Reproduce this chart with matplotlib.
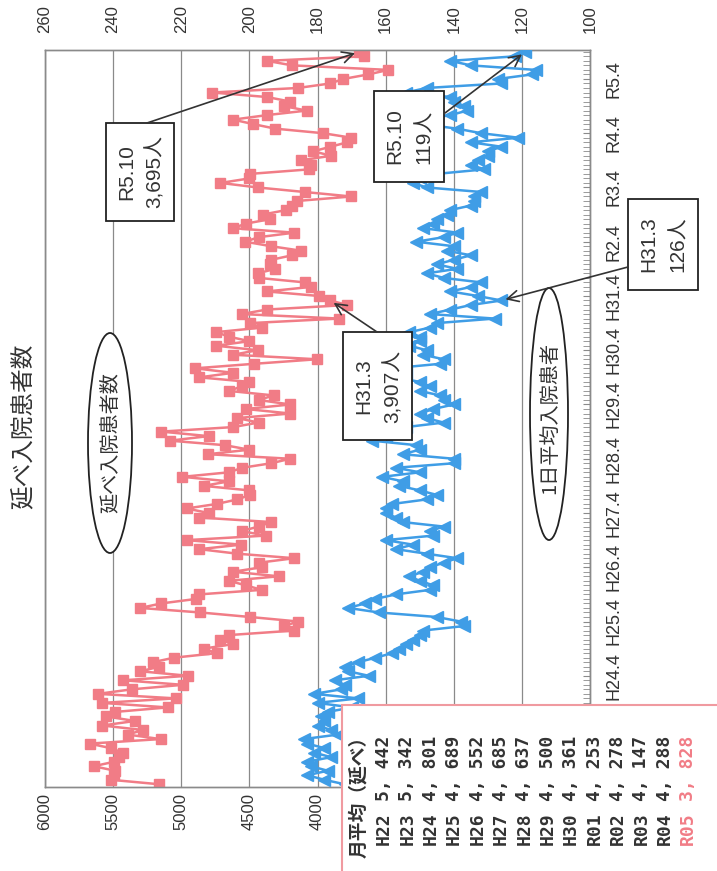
import numpy as np
import matplotlib
matplotlib.use('Agg')
import matplotlib.pyplot as plt
from matplotlib.patches import Ellipse, Rectangle

plt.rcParams['font.family'] = ['Liberation Sans', 'Noto Sans CJK JP', 'DejaVu Sans']

# 延べ入院患者数 (monthly total), H22.4 .. R5.10
total = [5160, 5518, 5490, 5487, 5642, 5490, 5456, 5430, 5518, 5673, 5152, 5394,   # H22
         5280, 5580, 5340, 5549, 5487, 5100, 5580, 5040, 5611, 5363, 4988, 5425,   # H23
         4950, 5301, 5160, 5208, 5053, 4740, 4836, 4620, 4712, 4650, 4172, 4247,   # H24
         4140, 4495, 4860, 5301, 5146, 4890, 4867, 4410, 4526, 4650, 4284, 4619,   # H25
         4410, 4433, 4170, 4588, 4867, 4560, 4960, 4380, 4557, 4433, 4340, 4867,   # H26
         4800, 4960, 4740, 4588, 4495, 4500, 4836, 4650, 4991, 4650, 4553, 4340,   # H27
         4200, 4805, 4500, 4681, 5084, 4800, 5146, 4620, 4433, 4588, 4200, 4526,   # H28
         4200, 4433, 4320, 4650, 4557, 4500, 4867, 4620, 4898, 4464, 4004, 4619,   # H29
         4440, 4743, 4500, 4650, 4743, 4410, 4495, 3840, 4557, 4371, 3780, 3907,   # H30
         3990, 4371, 4050, 4092, 4433, 4440, 4309, 4350, 4340, 4185, 4118, 4340,   # R01
         4530, 4433, 4170, 4619, 4526, 4345, 4402, 4230, 4185, 4154, 3752, 4092,   # R02
         4440, 4712, 4500, 4495, 4061, 4050, 4123, 3900, 4030, 3906, 3780, 3751,   # R03
         3960, 4309, 4470, 4619, 4371, 4080, 4247, 4200, 4371, 4774, 4144, 3906,   # R04
         3810, 3627, 3480, 4185, 4371, 3660, 3695]                                 # R05

# 1日平均入院患者
daily = [172, 178, 183, 177, 182, 183, 176, 181, 178, 183, 184, 174,
         176, 180, 178, 179, 177, 170, 180, 168, 181, 173, 172, 175,
         165, 171, 172, 168, 163, 158, 156, 154, 152, 150, 149, 137,
         138, 145, 162, 171, 166, 163, 157, 147, 146, 150, 153, 149,
         147, 143, 139, 148, 157, 152, 160, 146, 147, 143, 155, 157,
         160, 160, 158, 148, 145, 150, 156, 155, 161, 150, 157, 140,
         140, 155, 150, 151, 164, 160, 166, 154, 143, 148, 150, 146,
         140, 143, 144, 150, 147, 150, 157, 154, 158, 144, 143, 149,
         148, 153, 150, 150, 153, 147, 145, 128, 147, 141, 135, 126,
         133, 141, 135, 132, 143, 148, 139, 145, 140, 135, 142, 140,
         151, 143, 139, 149, 146, 145, 142, 141, 135, 134, 134, 132,
         148, 152, 150, 145, 131, 135, 133, 130, 130, 126, 135, 121,
         132, 139, 149, 149, 141, 136, 137, 140, 141, 154, 148, 126,
         127, 117, 116, 135, 141, 122, 119]

# labels of April ticks visible on the time axis (H22.4, H23.4 are under the table)
year_ticks = ['H24.4', 'H25.4', 'H26.4', 'H27.4', 'H28.4', 'H29.4',
              'H30.4', 'H31.4', 'R2.4', 'R3.4', 'R4.4', 'R5.4']
first_tick = 24

tbl_years = ['H22', 'H23', 'H24', 'H25', 'H26', 'H27', 'H28', 'H29', 'H30',
             'R01', 'R02', 'R03', 'R04', 'R05']
tbl_avg = [5442, 5342, 4801, 4689, 4552, 4685, 4637, 4500, 4361, 4253,
           4278, 4147, 4288, 3828]

pink = '#f17c86'
blue = '#3f9de6'
grey = '#8a8a8a'
txt = '#333333'

W, H = 717, 871
fig = plt.figure(figsize=(W / 100, H / 100), dpi=100)
x0, x1, y0, y1 = 45, 590, 50, 787
ax = fig.add_axes([x0 / W, 1 - y1 / H, (x1 - x0) / W, (y1 - y0) / H])
months = np.arange(len(total))

ax.plot(total, months, color=pink, marker='s', ms=7, lw=1.8, zorder=3)
ax.set_xlim(6000, 2000)
xt = np.arange(2000, 6001, 500)
ax.set_xticks(xt)
# labels below 4000 are covered by the table in the original
ax.set_xticklabels([str(v) if v >= 4000 else '' for v in xt], rotation=90)
ax.tick_params(axis='x', length=0, pad=4, labelsize=12, labelcolor=txt)
ax.grid(axis='x', color=grey, lw=0.9)
ax.set_axisbelow(True)

ax.yaxis.tick_right()
ax.set_yticks(months[first_tick::12])
ax.set_yticklabels(year_ticks, rotation=90, va='center')
ax.set_yticks(months, minor=True)
ax.tick_params(axis='y', which='both', direction='in', length=5, color=grey,
               left=False, right=True, labelleft=False, labelright=True,
               pad=11, labelsize=13, labelcolor=txt)

ax2 = ax.twiny()
ax2.plot(daily, months, color=blue, marker='<', ms=8, lw=1.8, zorder=3)
ax2.set_xlim(260, 100)
ax2.set_xticks(np.arange(100, 261, 20))
ax2.set_xticklabels([str(v) for v in np.arange(100, 261, 20)], rotation=90)
ax2.tick_params(axis='x', length=0, pad=12, labelsize=12, labelcolor=txt)
ax.set_ylim(-0.6, 162.4)

for a in (ax, ax2):
    for s in a.spines.values():
        s.set_color(grey)
        s.set_linewidth(1.0)

# overlay in pixel coordinates
ov = fig.add_axes([0, 0, 1, 1])
ov.set_xlim(0, W)
ov.set_ylim(H, 0)
ov.axis('off')

ov.text(23, 426, '延べ入院患者数', rotation=90, ha='center', va='center',
        fontsize=17, color=txt, family=['Noto Sans CJK JP'])

ov.add_patch(Ellipse((110, 443), 44, 220, fc='white', ec='#222222', lw=1.3))
ov.text(111, 443, '延べ入院患者数', rotation=90, ha='center', va='center',
        fontsize=14.5, color=txt, family=['Noto Sans CJK JP'])
ov.add_patch(Ellipse((549, 414), 38, 252, fc='white', ec='#222222', lw=1.3))
ov.text(550, 418, '1日平均入院患者', rotation=90, ha='center', va='center',
        fontsize=14.5, color=txt, family=['Noto Sans CJK JP'])

arrow = dict(arrowstyle='->', color='#333333', lw=1.2, mutation_scale=20,
             shrinkA=0, shrinkB=3)
ov.annotate('', xy=(total[-1], months[-1]), xycoords=ax.transData,
            xytext=(147, 123), textcoords='data', arrowprops=arrow)
ov.annotate('', xy=(daily[-1], months[-1]), xycoords=ax2.transData,
            xytext=(445, 113), textcoords='data', arrowprops=arrow)
ov.annotate('', xy=(daily[107], months[107]), xycoords=ax2.transData,
            xytext=(628, 267), textcoords='data', arrowprops=arrow)
ov.annotate('', xy=(total[107], months[107]), xycoords=ax.transData,
            xytext=(377, 332), textcoords='data', arrowprops=arrow)

boxes = [((106, 123, 68, 98), 'R5.10', '3,695人'),
         ((374, 91, 70, 91), 'R5.10', '119人'),
         ((628, 199, 70, 91), 'H31.3', '126人'),
         ((343, 332, 69, 108), 'H31.3', '3,907人')]
for (bx, by, bw, bh), l1, l2 in boxes:
    ov.add_patch(Rectangle((bx, by), bw, bh, fc='white', ec='#222222', lw=1.3))
    ov.text(bx + bw * 0.3, by + bh / 2, l1, rotation=90, ha='center', va='center',
            fontsize=15, color=txt)
    ov.text(bx + bw * 0.72, by + bh / 2, l2, rotation=90, ha='center', va='center',
            fontsize=15, color=txt)

# table of monthly averages
ov.add_patch(Rectangle((342, 705), 420, 220, fc='white', ec='#f09aa0', lw=1.5))
ov.text(359, 858, '月平均（延べ）', rotation=90, ha='center', va='bottom',
        fontsize=13.5, color=txt, weight='bold', family=['Noto Sans CJK JP'])
mono = ['DejaVu Sans Mono']
for k, (yr, v) in enumerate(zip(tbl_years, tbl_avg)):
    cx = 384 + k * 23.4
    c = pink if yr == 'R05' else txt
    ov.text(cx, 845, yr, rotation=90, ha='center', va='bottom',
            fontsize=13, color=c, weight='bold', family=mono)
    ov.text(cx, 801, f'{v // 1000}, {v % 1000:03d}', rotation=90, ha='center',
            va='bottom', fontsize=13, color=c, weight='bold', family=mono)

fig.savefig('out.png', dpi=100)
